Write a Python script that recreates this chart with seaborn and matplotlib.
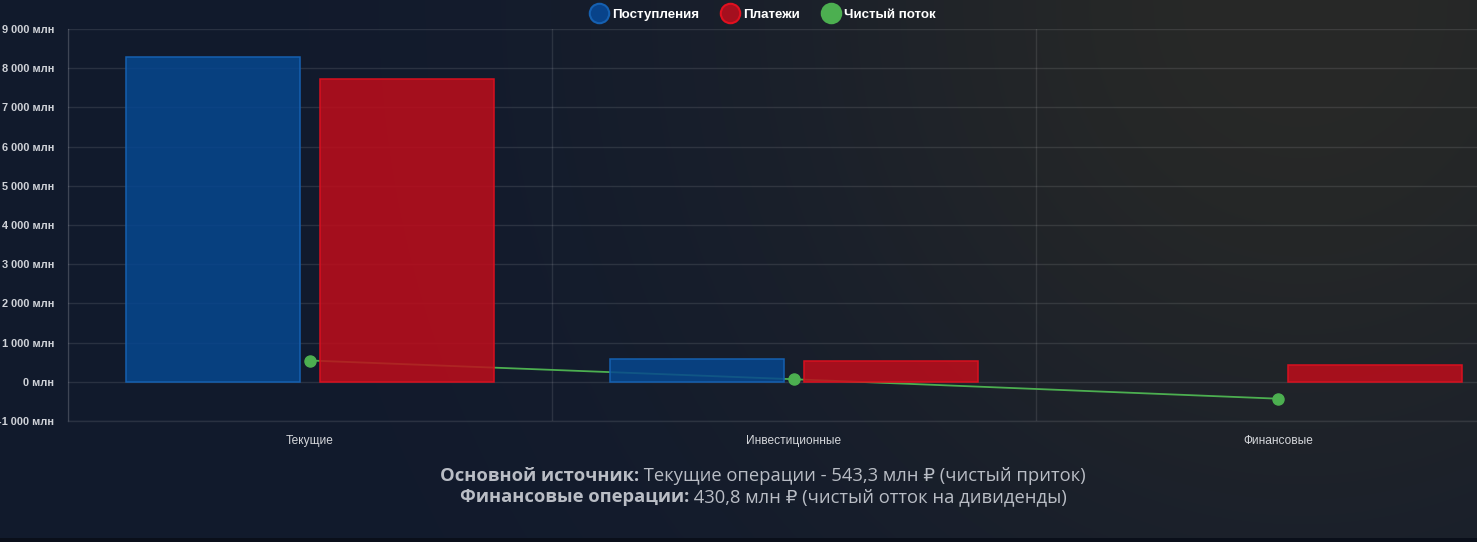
import numpy as np
import pandas as pd
import matplotlib
matplotlib.use("Agg")
import matplotlib.pyplot as plt
from matplotlib.lines import Line2D
from matplotlib.ticker import FuncFormatter
import seaborn as sns

# Data
categories = ["Текущие", "Инвестиционные", "Финансовые"]
inflows = [8273.3, 590.0, 0.0]
payments = [7730.0, 525.0, 430.8]
net_flow = [543.3, 65.0, -430.8]
series_names = ["Поступления", "Платежи", "Чистый поток"]
y_ticks = [-1000, 0, 1000, 2000, 3000, 4000, 5000, 6000, 7000, 8000, 9000]

note_bold = ["Основной источник:", "Финансовые операции:"]
note_text = ["Текущие операции - 543,3 млн ₽ (чистый приток)",
             "430,8 млн ₽ (чистый отток на дивиденды)"]

df = pd.DataFrame({
    "cat": categories * 2,
    "value": inflows + payments,
    "series": [series_names[0]] * 3 + [series_names[1]] * 3,
})

sns.set_style("dark")
plt.rcParams["font.family"] = ["Liberation Sans", "DejaVu Sans"]

W, H = 1477, 542
fig = plt.figure(figsize=(W / 100, H / 100), dpi=100)

# background gradient
xx, yy = np.meshgrid(np.arange(W), np.arange(H))
base = np.array([17, 26, 45]) / 255
warm = np.array([40, 41, 39]) / 255
w = np.exp(-(((xx - 1300) / 560) ** 2 + (yy / 600) ** 2))[..., None]
img = base * (1 - w) + warm * w
img[538:] = np.array([10, 15, 26]) / 255
bg = fig.add_axes([0, 0, 1, 1], zorder=-10)
bg.imshow(img, aspect="auto", interpolation="bilinear")
bg.axis("off")

ax = fig.add_axes([68 / W, 121 / H, 1452 / W, 392 / H])
ax.set_facecolor("none")

fills = [(6 / 255, 71 / 255, 143 / 255, 0.85), (191 / 255, 13 / 255, 27 / 255, 0.85)]
edges = ["#1560b0", "#d8101f"]

sns.barplot(data=df, x="cat", y="value", hue="series", hue_order=series_names[:2],
            palette=["#06478f", "#bf0d1b"], width=0.8, gap=0.1, legend=False,
            ax=ax, zorder=3)
for cont, fc, ec in zip(ax.containers, fills, edges):
    for bar in cont:
        bar.set_facecolor(fc)
        bar.set_edgecolor(ec)
        bar.set_linewidth(1.1)
        if bar.get_height() == 0:
            bar.set_visible(False)

n_lines = len(ax.lines)
sns.pointplot(x=categories, y=net_flow, color="#4caf50", markers="o",
              markersize=8, linewidth=1.3, ax=ax)
for ln in ax.lines[n_lines:]:
    ln.set_zorder(2)

ax.set_xlim(-0.5, 2.5)
ax.set_ylim(-1000, 9000)
ax.set_xlabel("")
ax.set_ylabel("")

grid_c = (1, 1, 1, 0.1)
ax.set_yticks(y_ticks)
ax.yaxis.set_major_formatter(FuncFormatter(lambda v, p: f"{int(v):,} млн".replace(",", " ")))
ax.set_xticks(range(len(categories)))
ax.set_xticklabels(categories)
ax.set_xticks([-0.5, 0.5, 1.5, 2.5], minor=True)
ax.grid(False)
ax.yaxis.grid(True, color="white", alpha=0.1, linewidth=1)
ax.xaxis.grid(True, which="minor", color="white", alpha=0.1, linewidth=1)
ax.set_axisbelow(True)
ax.tick_params(axis="y", length=7, color=grid_c, labelsize=7.9, labelcolor="#cfd2d8", pad=3)
for t in ax.get_yticklabels():
    t.set_fontweight("bold")
ax.tick_params(axis="x", which="major", length=0, labelsize=8.6, labelcolor="#d4d6da", pad=10)
ax.tick_params(axis="x", which="minor", length=7, color=grid_c)
for s in ["top", "right"]:
    ax.spines[s].set_visible(False)
for s in ["left", "bottom"]:
    ax.spines[s].set_color(grid_c)
    ax.spines[s].set_linewidth(1)

# legend
handles = [
    Line2D([], [], linestyle="none", marker="o", markersize=14, markerfacecolor="#08438a",
           markeredgecolor="#1560b0", markeredgewidth=1.5),
    Line2D([], [], linestyle="none", marker="o", markersize=14, markerfacecolor="#a50f1e",
           markeredgecolor="#e0101f", markeredgewidth=1.5),
    Line2D([], [], linestyle="none", marker="o", markersize=14, markerfacecolor="#4caf50",
           markeredgecolor="#4caf50", markeredgewidth=1.5),
]
leg = fig.legend(handles, series_names, loc="center", bbox_to_anchor=(762 / W, 1 - 15 / H),
                 ncol=3, frameon=False, handletextpad=0.2, columnspacing=1.5,
                 handlelength=1.6, prop={"weight": "bold", "size": 9.6})
for t in leg.get_texts():
    t.set_color("white")

# note under the chart
renderer = fig.canvas.get_renderer()
txt_font = ["Open Sans", "DejaVu Sans"]
for i, (b, r) in enumerate(zip(note_bold, note_text)):
    y = 1 - (476 + 21 * i) / H
    t1 = fig.text(0, y, b, family=txt_font, weight="bold", size=13.2, color="#b9bdc5", va="center")
    t2 = fig.text(0, y, " " + r, family=txt_font, size=13.2, color="#b9bdc5", va="center")
    w1 = t1.get_window_extent(renderer).width
    w2 = t2.get_window_extent(renderer).width
    x0 = 763 - (w1 + w2) / 2
    t1.set_x(x0 / W)
    t2.set_x((x0 + w1) / W)

fig.savefig("out.png", dpi=100)
